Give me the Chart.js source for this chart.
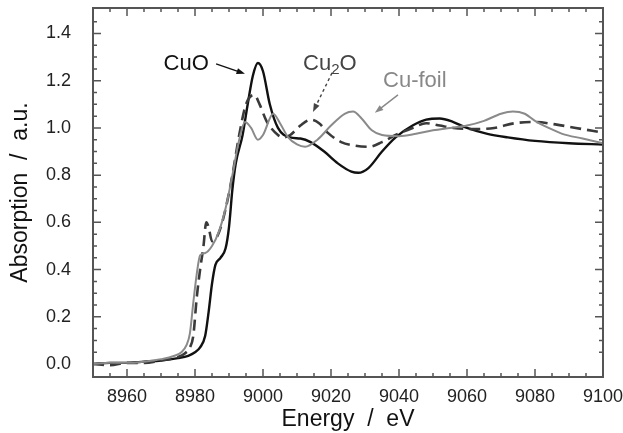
<!DOCTYPE html>
<html>
<head>
<meta charset="utf-8">
<script src="https://cdn.jsdelivr.net/npm/chart.js@4.4.0/dist/chart.umd.min.js"></script>
<style>
  html, body { margin: 0; padding: 0; background: #fff; }
  #wrap { width: 623px; height: 433px; }
</style>
</head>
<body>
<div id="wrap"><canvas id="xanes"></canvas></div>
<script>
// Cu K-edge XANES (energy in eV, absorption in a.u.)
const cuoE = [8950, 8955, 8960, 8965, 8970, 8975, 8978, 8980, 8981.5, 8983, 8984, 8985, 8986, 8987.5, 8989, 8990, 8991, 8992, 8994, 8995.5, 8997, 8998.5, 9000, 9002, 9004.4, 9008, 9011, 9014, 9018, 9022, 9026, 9028, 9031, 9035, 9039, 9044, 9048, 9052, 9056, 9060, 9066, 9072, 9080, 9090, 9100];
const cuoA = [0.00, 0.005, 0.005, 0.01, 0.015, 0.025, 0.035, 0.05, 0.07, 0.12, 0.22, 0.34, 0.42, 0.45, 0.49, 0.58, 0.74, 0.85, 0.97, 1.10, 1.22, 1.275, 1.24, 1.10, 1.00, 0.96, 0.955, 0.94, 0.90, 0.85, 0.815, 0.81, 0.83, 0.90, 0.96, 1.01, 1.035, 1.04, 1.025, 1.00, 0.975, 0.96, 0.945, 0.935, 0.93];

const cu2oE = [8950, 8955, 8960, 8965, 8970, 8975, 8977, 8978.5, 8979.5, 8980.5, 8981.5, 8982.5, 8983.3, 8984, 8985, 8986.5, 8988, 8989.5, 8991, 8993, 8995, 8997.4, 8999, 9001, 9004.4, 9006, 9008, 9011, 9014, 9016.5, 9019, 9023, 9027, 9031, 9035, 9039, 9044, 9048, 9052, 9056, 9062, 9068, 9074, 9080, 9086, 9092, 9100];
const cu2oA = [0.00, -0.005, 0.005, 0.005, 0.015, 0.03, 0.045, 0.07, 0.12, 0.28, 0.40, 0.50, 0.60, 0.58, 0.52, 0.54, 0.60, 0.69, 0.80, 0.97, 1.10, 1.14, 1.10, 1.03, 0.97, 0.96, 0.97, 1.01, 1.035, 1.02, 0.98, 0.94, 0.925, 0.92, 0.94, 0.97, 1.00, 1.02, 1.01, 1.00, 0.995, 1.00, 1.02, 1.025, 1.015, 1.00, 0.98];

const foilE = [8950, 8955, 8960, 8965, 8970, 8974, 8976, 8977.5, 8978.5, 8979.5, 8980.5, 8981.5, 8983, 8985, 8987, 8989, 8991, 8993, 8994.7, 8996.5, 8998.5, 9000, 9003, 9005, 9007.4, 9010, 9012.4, 9016, 9020, 9024, 9026.5, 9029, 9032, 9035, 9040, 9045, 9050, 9055, 9060, 9065, 9070, 9073.5, 9077, 9080, 9084, 9088, 9094, 9100];
const foilA = [0.00, 0.005, 0.005, 0.01, 0.02, 0.035, 0.05, 0.08, 0.13, 0.26, 0.38, 0.46, 0.47, 0.50, 0.56, 0.66, 0.80, 0.95, 1.025, 1.00, 0.95, 0.97, 1.06, 1.02, 0.96, 0.93, 0.92, 0.95, 1.01, 1.06, 1.07, 1.04, 0.99, 0.97, 0.965, 0.975, 0.99, 1.00, 1.01, 1.03, 1.06, 1.07, 1.06, 1.03, 1.00, 0.975, 0.955, 0.935];

const xTicks = [8960, 8980, 9000, 9020, 9040, 9060, 9080, 9100];
const yTicks = [0.0, 0.2, 0.4, 0.6, 0.8, 1.0, 1.2, 1.4];

// label anchors in data space: [energy, absorption]
const labelCuO = [8977.4, 1.271];
const arrowCuO = [[8986.2, 1.271], [8994.7, 1.229]];
const labelCu2O = [9011.8, 1.246];
const arrowCu2O = [[9020.3, 1.233], [9014.7, 1.068]];
const labelFoil = [9035.3, 1.173];
const arrowFoil = [[9039.7, 1.14], [9032.9, 1.064]];

const FONT = '"Liberation Sans", Arial, Helvetica, sans-serif';

function pts(xs, ys) {
    return xs.map((x, i) => ({ x: x, y: ys[i] }));
}

// inward ticks on all four sides plus the frame
const frameTicks = {
    id: 'frameTicks',
    afterDraw(chart) {
        const { ctx, chartArea: a, scales: { x, y } } = chart;
        ctx.save();
        ctx.strokeStyle = '#555';
        ctx.lineWidth = 1.5;
        ctx.beginPath();
        for (let e = 8955; e < 9100; e += 5) {
            const px = x.getPixelForValue(e);
            const len = (e % 20 === 0) ? 8 : 4;
            ctx.moveTo(px, a.bottom); ctx.lineTo(px, a.bottom - len);
            ctx.moveTo(px, a.top); ctx.lineTo(px, a.top + len);
        }
        for (let k = 1; k < 30; k++) {
            const v = k * 0.05;
            const py = y.getPixelForValue(v);
            const len = (k % 4 === 0) ? 8 : 4;
            ctx.moveTo(a.left, py); ctx.lineTo(a.left + len, py);
            ctx.moveTo(a.right, py); ctx.lineTo(a.right - len, py);
        }
        ctx.stroke();
        ctx.lineWidth = 2;
        ctx.strokeRect(a.left, a.top, a.right - a.left, a.bottom - a.top);
        ctx.restore();
    }
};

function arrow(ctx, x, y, from, to, color, dashed) {
    const x0 = x.getPixelForValue(from[0]), y0 = y.getPixelForValue(from[1]);
    const x1 = x.getPixelForValue(to[0]), y1 = y.getPixelForValue(to[1]);
    const ang = Math.atan2(y1 - y0, x1 - x0);
    ctx.save();
    ctx.strokeStyle = color;
    ctx.fillStyle = color;
    ctx.lineWidth = 1.4;
    if (dashed) ctx.setLineDash([3, 3]);
    ctx.beginPath();
    ctx.moveTo(x0, y0);
    ctx.lineTo(x1 - 6 * Math.cos(ang), y1 - 6 * Math.sin(ang));
    ctx.stroke();
    ctx.setLineDash([]);
    ctx.beginPath();
    ctx.moveTo(x1, y1);
    ctx.lineTo(x1 - 9 * Math.cos(ang - 0.35), y1 - 9 * Math.sin(ang - 0.35));
    ctx.lineTo(x1 - 9 * Math.cos(ang + 0.35), y1 - 9 * Math.sin(ang + 0.35));
    ctx.closePath();
    ctx.fill();
    ctx.restore();
}

const labels = {
    id: 'labels',
    afterDatasetsDraw(chart) {
        const { ctx, scales: { x, y } } = chart;
        ctx.save();
        ctx.textBaseline = 'middle';
        ctx.font = '22px ' + FONT;

        ctx.fillStyle = '#111';
        ctx.textAlign = 'center';
        ctx.fillText('CuO', x.getPixelForValue(labelCuO[0]), y.getPixelForValue(labelCuO[1]));
        arrow(ctx, x, y, arrowCuO[0], arrowCuO[1], '#111', false);

        ctx.fillStyle = '#444';
        ctx.textAlign = 'left';
        ctx.textBaseline = 'alphabetic';
        let px = x.getPixelForValue(labelCu2O[0]);
        const py = y.getPixelForValue(labelCu2O[1]);
        ctx.fillText('Cu', px, py);
        px += ctx.measureText('Cu').width;
        ctx.font = '15px ' + FONT;
        ctx.fillText('2', px, py + 4);
        px += ctx.measureText('2').width;
        ctx.font = '22px ' + FONT;
        ctx.fillText('O', px, py);
        arrow(ctx, x, y, arrowCu2O[0], arrowCu2O[1], '#444', true);

        ctx.fillStyle = '#888';
        ctx.fillText('Cu-foil', x.getPixelForValue(labelFoil[0]), y.getPixelForValue(labelFoil[1]));
        arrow(ctx, x, y, arrowFoil[0], arrowFoil[1], '#888', false);
        ctx.restore();
    }
};

new Chart(document.getElementById('xanes'), {
    type: 'line',
    data: {
        datasets: [
            {
                label: 'Cu-foil',
                data: pts(foilE, foilA),
                borderColor: '#8a8a8a',
                borderWidth: 2
            },
            {
                label: 'Cu2O',
                data: pts(cu2oE, cu2oA),
                borderColor: '#3a3a3a',
                borderWidth: 2.6,
                borderDash: [11, 6]
            },
            {
                label: 'CuO',
                data: pts(cuoE, cuoA),
                borderColor: '#111',
                borderWidth: 2.4
            }
        ]
    },
    options: {
        responsive: true,
        maintainAspectRatio: false,
        animation: false,
        layout: { padding: { top: 8, right: 20, left: 0, bottom: 0 } },
        elements: {
            point: { radius: 0 },
            line: { cubicInterpolationMode: 'monotone', fill: false }
        },
        plugins: {
            legend: { display: false },
            tooltip: { enabled: false }
        },
        scales: {
            x: {
                type: 'linear',
                min: 8950,
                max: 9100,
                afterBuildTicks: (s) => { s.ticks = xTicks.map(v => ({ value: v })); },
                afterFit: (s) => {
                    s.height = 56;
                    s.paddingLeft = 0; s.paddingRight = 0;
                },
                grid: { display: false, drawTicks: false },
                border: { display: false },
                ticks: {
                    color: '#222',
                    padding: 9,
                    maxRotation: 0,
                    font: { family: FONT, size: 18 },
                    callback: (v) => String(v)
                },
                title: {
                    display: true,
                    text: 'Energy  /  eV',
                    color: '#111',
                    padding: { top: 0, bottom: 0 },
                    font: { family: FONT, size: 23 }
                }
            },
            y: {
                min: -0.055,
                max: 1.508,
                afterBuildTicks: (s) => { s.ticks = yTicks.map(v => ({ value: v })); },
                afterFit: (s) => {
                    s.width = 93;
                    s.paddingTop = 0; s.paddingBottom = 0;
                },
                grid: { display: false, drawTicks: false },
                border: { display: false },
                ticks: {
                    color: '#222',
                    padding: 22,
                    font: { family: FONT, size: 18 },
                    callback: (v) => v.toFixed(1)
                },
                title: {
                    display: true,
                    text: 'Absorption  /  a.u.',
                    color: '#111',
                    padding: { top: 7, bottom: 0 },
                    font: { family: FONT, size: 23 }
                }
            }
        }
    },
    plugins: [frameTicks, labels]
});
</script>
</body>
</html>
